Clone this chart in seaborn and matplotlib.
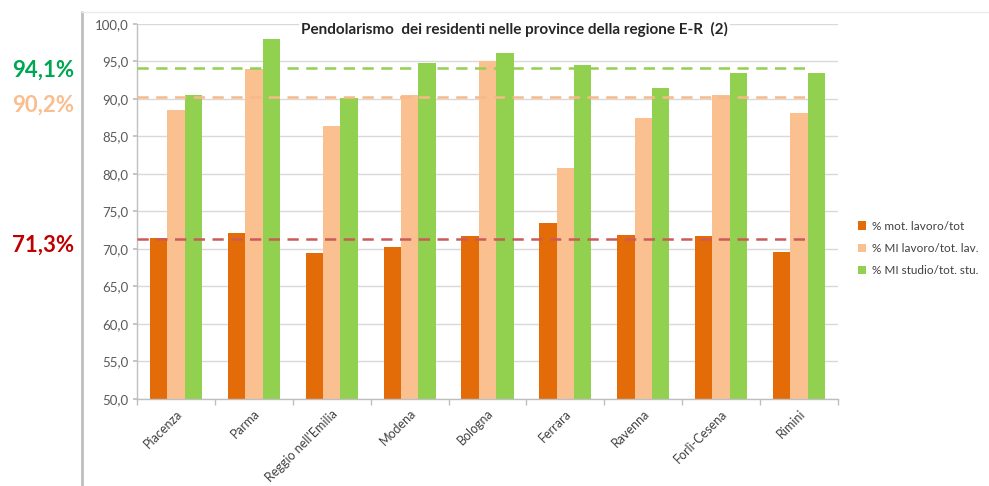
import matplotlib
matplotlib.use("Agg")
import matplotlib.pyplot as plt
import seaborn as sns
import pandas as pd
from matplotlib.patches import Patch
from matplotlib.lines import Line2D
from matplotlib.ticker import FuncFormatter, FixedLocator

# ---------------- data ----------------
province = ["Piacenza", "Parma", "Reggio nell'Emilia", "Modena", "Bologna",
            "Ferrara", "Ravenna", "Forlì-Cesena", "Rimini"]
mot_lavoro_tot = [71.5, 72.1, 69.4, 70.3, 71.8, 73.5, 71.9, 71.8, 69.6]
mi_lavoro_tot_lav = [88.6, 94.0, 86.4, 90.6, 95.1, 80.8, 87.5, 90.5, 88.1]
mi_studio_tot_stu = [90.5, 98.0, 90.1, 94.8, 96.1, 94.6, 91.4, 93.5, 93.4]
series_names = ["% mot. lavoro/tot", "% MI lavoro/tot. lav.", "% MI studio/tot. stu."]
ref_values = [94.1, 90.2, 71.3]   # regional averages: studio, lavoro MI, mot. lavoro
ref_labels = ["94,1%", "90,2%", "71,3%"]
title = "Pendolarismo  dei residenti nelle province della regione E-R  (2)"

# ---------------- style ----------------
sns.set_theme(style="white")
plt.rcParams["font.family"] = ["Lato", "DejaVu Sans"]

colors = ["#E36C09", "#FAC090", "#92D050"]
ref_colors = ["#92D050", "#F8B98A", "#CC5A5A"]
label_colors = ["#00A651", "#F9BE8F", "#C00000"]

df = pd.DataFrame({
    "provincia": province * 3,
    "serie": [series_names[0]] * 9 + [series_names[1]] * 9 + [series_names[2]] * 9,
    "valore": mot_lavoro_tot + mi_lavoro_tot_lav + mi_studio_tot_stu,
})

fig = plt.figure(figsize=(9.89, 4.86), dpi=100)
ax = fig.add_axes([137 / 989, 1 - 399 / 486, (838 - 137) / 989, (399 - 24) / 486])

sns.barplot(data=df, x="provincia", y="valore", hue="serie", order=province,
            hue_order=series_names, palette=colors, width=0.67, saturation=1,
            errorbar=None, ax=ax, legend=False, zorder=2, linewidth=0,
            edgecolor="none")

ax.set_ylim(50, 100)
ax.set_xlim(-0.5, len(province) - 0.5)
ax.set_yticks([50 + 5 * i for i in range(11)])
ax.yaxis.set_major_formatter(FuncFormatter(lambda v, p: f"{v:.1f}".replace(".", ",")))
ax.grid(axis="y", color="#D9D9D9", linewidth=1, zorder=0)
ax.set_axisbelow(True)
ax.set_xlabel("")
ax.set_ylabel("")

for s in ["top", "right"]:
    ax.spines[s].set_visible(False)
for s in ["left", "bottom"]:
    ax.spines[s].set_color("#BFBFBF")
    ax.spines[s].set_linewidth(1)

ax.tick_params(axis="y", labelsize=9.5, labelcolor="#595959", length=3, color="#BFBFBF",
               left=True, pad=3)
ax.set_xticks(range(len(province)))
ax.set_xticklabels(province, rotation=45, ha="right", rotation_mode="anchor",
                   fontsize=9, color="#404040")
ax.tick_params(axis="x", length=0, pad=6)
ax.xaxis.set_minor_locator(FixedLocator([i - 0.5 for i in range(len(province) + 1)]))
ax.tick_params(axis="x", which="minor", length=4, color="#BFBFBF", bottom=True)

# reference lines
ends = [0.961, 0.957, 0.953]
for v, c, e in zip(ref_values, ref_colors, ends):
    ax.axhline(v, xmin=0.0, xmax=e, color=c, linewidth=1.8,
               linestyle=(0, (4.5, 3)), zorder=3)

# title inside plot area
ax.text(0.538, 0.985, title, transform=ax.transAxes, ha="center", va="center",
        fontsize=11, fontweight="bold", color="#262626", zorder=5,
        bbox=dict(facecolor="white", edgecolor="none", pad=1.5))

# left labels
label_y = [70, 105, 245]
for t, c, yy in zip(ref_labels, label_colors, label_y):
    fig.text(43 / 989, 1 - yy / 486, t, ha="center", va="center", fontsize=16,
             fontweight="bold", color=c)

# frame lines of the pasted chart
fig.add_artist(Line2D([82 / 989, 82 / 989], [0, 1 - 12 / 486], color="#BFBFBF",
                      linewidth=2, transform=fig.transFigure))
fig.add_artist(Line2D([82 / 989, 1], [1 - 12 / 486, 1 - 12 / 486], color="#EBEBEB",
                      linewidth=1, transform=fig.transFigure))

# legend
handles = [Patch(facecolor=c, edgecolor="none") for c in colors]
fig.legend(handles, series_names, loc="upper left",
           bbox_to_anchor=(853 / 989, 1 - 216 / 486), frameon=False,
           fontsize=8.5, handlelength=0.7, handleheight=0.7, handletextpad=0.5,
           labelspacing=0.95, borderaxespad=0, labelcolor="#404040")

fig.savefig("out.png", dpi=100, facecolor="white")
